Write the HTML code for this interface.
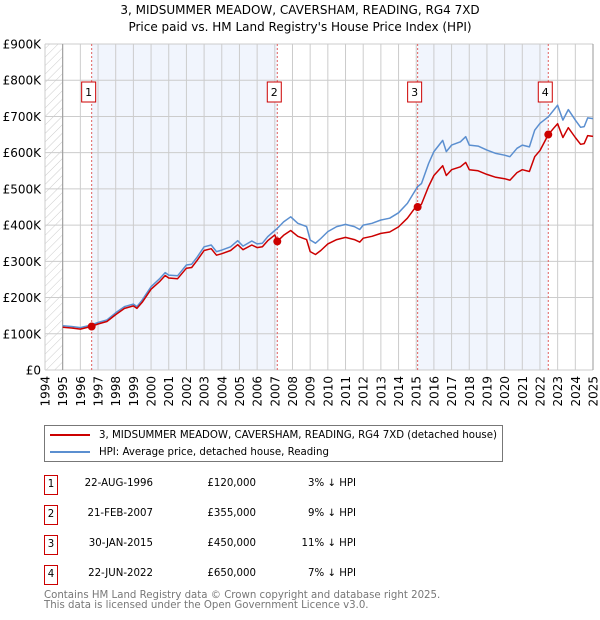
<!DOCTYPE html>
<html><head><meta charset="utf-8"><style>
body{margin:0;background:#fff;font-family:"Liberation Sans","DejaVu Sans",sans-serif;}
#wrap{position:relative;width:600px;height:620px;overflow:hidden}
svg text{font-family:"DejaVu Sans","Liberation Sans",sans-serif}
</style></head><body><div id="wrap">
<svg id="chart" width="600" height="620">
<defs><pattern id="hatch" width="6" height="6" patternUnits="userSpaceOnUse" patternTransform="rotate(45)"><line x1="0" y1="0" x2="0" y2="6" stroke="#ccc" stroke-width="1"/></pattern></defs>
<text x="300" y="14" text-anchor="middle" font-size="12" fill="#000">3, MIDSUMMER MEADOW, CAVERSHAM, READING, RG4 7XD</text>
<text x="300" y="31" text-anchor="middle" font-size="12" fill="#000">Price paid vs. HM Land Registry's House Price Index (HPI)</text>
<g id="plot"></g>
</svg>
<div style="position:absolute;left:44px;top:425px;width:457px;height:35px;border:1px solid #777;font-size:10.2px;font-family:'DejaVu Sans','Liberation Sans',sans-serif">
 <div style="position:absolute;left:5px;top:4px;white-space:nowrap"><span style="display:inline-block;width:40px;height:2px;background:#cc0000;vertical-align:middle;margin-right:9px"></span>3, MIDSUMMER MEADOW, CAVERSHAM, READING, RG4 7XD (detached house)</div>
 <div style="position:absolute;left:5px;top:21px;white-space:nowrap"><span style="display:inline-block;width:40px;height:2px;background:#5b8fd0;vertical-align:middle;margin-right:9px"></span>HPI: Average price, detached house, Reading</div>
</div>
<div id="table" style="position:absolute;left:0;top:0;font-size:10.2px;font-family:'DejaVu Sans','Liberation Sans',sans-serif"></div>
<div style="position:absolute;left:44px;top:591px;font-size:10.2px;line-height:10px;color:#777;font-family:'DejaVu Sans','Liberation Sans',sans-serif">Contains HM Land Registry data © Crown copyright and database right 2025.<br>This data is licensed under the Open Government Licence v3.0.</div>
</div>
<script>
const hpiYears=[1995.0,1995.5,1996.0,1996.6,1997.0,1997.5,1998.0,1998.5,1999.0,1999.2,1999.5,2000.0,2000.5,2000.8,2001.0,2001.5,2002.0,2002.3,2002.6,2003.0,2003.4,2003.7,2004.0,2004.5,2004.9,2005.2,2005.7,2006.0,2006.3,2006.6,2007.0,2007.14,2007.5,2007.9,2008.3,2008.8,2009.0,2009.3,2009.6,2010.0,2010.5,2011.0,2011.5,2011.8,2012.0,2012.5,2013.0,2013.5,2014.0,2014.5,2015.0,2015.08,2015.3,2015.7,2016.0,2016.5,2016.7,2017.0,2017.5,2017.8,2018.0,2018.5,2019.0,2019.5,2020.0,2020.3,2020.7,2021.0,2021.4,2021.7,2022.0,2022.47,2022.8,2023.0,2023.3,2023.6,2024.0,2024.3,2024.5,2024.7,2025.0];
const hpiValues=[122,120,117,124,131,138,158,175,182,175,193,230,253,269,262,260,290,292,311,340,345,327,331,340,357,342,356,348,350,368,385,391,409,423,405,396,359,350,363,382,396,402,396,388,400,405,414,419,434,460,500,506,515,570,603,634,603,621,630,644,621,618,607,598,593,589,612,621,616,662,681,699,719,731,690,719,690,670,672,696,694];
const propValues=[118,116,113,120,127,134,153,170,177,170,187,223,245,261,254,252,281,283,302,330,335,317,321,330,346,332,345,338,340,357,373,355,372,385,369,360,327,319,330,348,360,366,360,353,364,369,377,381,395,419,452,450,458,507,537,564,537,553,561,573,553,550,540,532,528,524,545,553,548,589,606,650,669,680,642,669,642,623,625,647,645];
const saleYears=[1996.64,2007.14,2015.08,2022.47];
const saleValues=[120,355,450,650];
const saleLabels=["1","2","3","4"];
const saleDates=["22-AUG-1996","21-FEB-2007","30-JAN-2015","22-JUN-2022"];
const salePrices=["£120,000","£355,000","£450,000","£650,000"];
const saleDiffs=["3% ↓ HPI","9% ↓ HPI","11% ↓ HPI","7% ↓ HPI"];
const yTicks=[0,100,200,300,400,500,600,700,800,900];
const yTickLabels=["£0","£100K","£200K","£300K","£400K","£500K","£600K","£700K","£800K","£900K"];
const xTicks=[1994,1995,1996,1997,1998,1999,2000,2001,2002,2003,2004,2005,2006,2007,2008,2009,2010,2011,2012,2013,2014,2015,2016,2017,2018,2019,2020,2021,2022,2023,2024,2025];

const L=45,R=593,T=44,B=370;
const X=y=>L+(y-1994)*(R-L)/31;
const Y=v=>B-v*(B-T)/900;
const NS="http://www.w3.org/2000/svg";
const g=document.getElementById('plot');
function mk(t,a,p){const e=document.createElementNS(NS,t);for(const k in a)e.setAttribute(k,a[k]);(p||g).appendChild(e);return e;}

mk('rect',{x:L,y:T,width:R-L,height:B-T,fill:'#fff',stroke:'none'});
let e=mk('rect',{x:L,y:T,width:X(1995)-L,height:B-T,fill:'url(#hatch)'});


for(let i=0;i<saleYears.length;i+=2){
 e=mk('rect',{x:X(saleYears[i]),y:T,width:X(saleYears[i+1])-X(saleYears[i]),height:B-T,fill:'#eef3fc',opacity:0.8});
 
 
}
yTicks.forEach((v,i)=>{
 e=mk('line',{x1:L,x2:R,y1:Y(v),y2:Y(v),stroke:'#ccc','stroke-width':1});
 
 
 e=mk('text',{x:L-4,y:Y(v)+4.5,'text-anchor':'end','font-size':12,fill:'#000'});
 e.textContent=yTickLabels[i];
 
 
});
xTicks.forEach(yr=>{
 e=mk('line',{x1:X(yr),x2:X(yr),y1:T,y2:B,stroke:'#ccc','stroke-width':1});
 
 
 e=mk('text',{x:0,y:0,'text-anchor':'end','font-size':12,fill:'#000',transform:`translate(${X(yr)+4.5},${B+6}) rotate(-90)`});
 e.textContent=yr;
 
 
});
mk('line',{x1:X(1995),x2:X(1995),y1:T,y2:B,stroke:'#999','stroke-width':1});
mk('line',{x1:R,x2:R,y1:T,y2:B,stroke:'#999','stroke-width':1});
saleYears.forEach((yr,i)=>{
 e=mk('line',{x1:X(yr),x2:X(yr),y1:T,y2:B,stroke:'#e06060','stroke-width':1,'stroke-dasharray':'2,2'});
 
 
});
function path(vals,color,name){
 const d=hpiYears.map((yr,i)=>(i?'L':'M')+X(yr).toFixed(1)+','+Y(vals[i]).toFixed(1)).join('');
 const p=mk('path',{d:d,fill:'none',stroke:color,'stroke-width':1.5,'stroke-linejoin':'round'});
 
 
}
path(hpiValues,'#5b8fd0','hpi-line');
path(propValues,'#cc0000','property-price-line');
saleYears.forEach((yr,i)=>{
 e=mk('circle',{cx:X(yr),cy:Y(saleValues[i]),r:4,fill:'#cc0000'});
 
 
 e=mk('rect',{x:X(yr)-10,y:82,width:14,height:20,fill:'#fff',stroke:'#cc0000','stroke-width':1});
 
 
 e=mk('text',{x:X(yr)-3,y:96,'text-anchor':'middle','font-size':11,fill:'#000'});
 e.textContent=saleLabels[i];
 
 
});
const tb=document.getElementById('table');
saleLabels.forEach((lab,i)=>{
 const top=475+i*30;
 const row=document.createElement('div');
 
 
 row.style.cssText=`position:absolute;left:0;top:${top}px;width:600px;height:20px`;
 row.innerHTML=`<div style="position:absolute;left:44px;top:0;width:12px;height:18px;border:1px solid #cc0000;text-align:center;line-height:18px">${lab}</div>`+
 `<div style="position:absolute;left:60px;width:93px;text-align:right;top:3px">${saleDates[i]}</div>`+
 `<div style="position:absolute;left:180px;width:76px;text-align:right;top:3px">${salePrices[i]}</div>`+
 `<div style="position:absolute;left:280px;width:76px;text-align:right;top:3px">${saleDiffs[i]}</div>`;
 tb.appendChild(row);
});
</script>
</body></html>
